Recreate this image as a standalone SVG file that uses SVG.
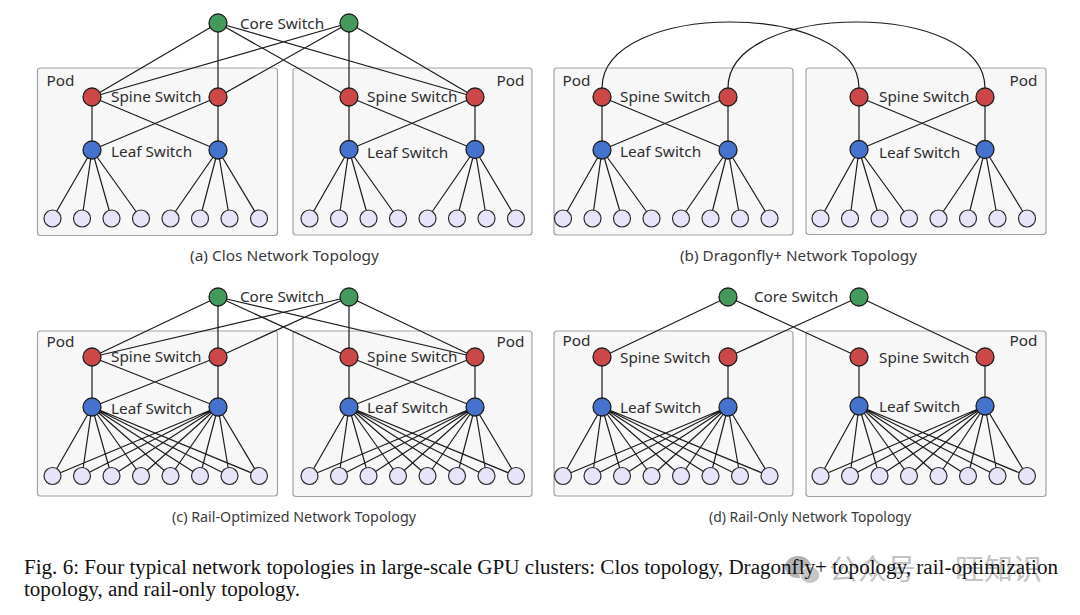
<svg xmlns="http://www.w3.org/2000/svg" width="1080" height="615" viewBox="0 0 1080 615">
<style>
.bg{fill:#ffffff}
.pod{fill:#f7f7f7;stroke:#a3a3a3;stroke-width:1.2}
.ln{fill:none;stroke:#1c1c1c;stroke-width:1.2}
.core{fill:#449a5c;stroke:#1e1e1e;stroke-width:1.3}
.spine{fill:#cc4848;stroke:#1e1e1e;stroke-width:1.3}
.leaf{fill:#4572cc;stroke:#1e1e1e;stroke-width:1.3}
.ep{fill:#e7e3f8;stroke:#2a2a2a;stroke-width:1.2}
.lbl{font-family:"Noto Sans","Open Sans",sans-serif;font-size:15.3px;fill:#2e2e2e}
.cap{font-family:"Noto Sans","Open Sans",sans-serif;font-size:15.3px;fill:#3a3a3a;text-anchor:middle}
.fig{font-family:"Liberation Serif","Times New Roman",serif;font-size:20px;fill:#111111}
.wm{font-family:"Noto Sans CJK SC","Noto Sans",sans-serif;font-size:29px;fill:#c4c4c4}
</style>
<rect class="bg" x="0" y="0" width="1080" height="615"/>

<!-- pod boxes -->
<g id="a-pod-left"><rect class="pod" x="37.5" y="68" width="240" height="167.5" rx="3"/></g>
<g id="a-pod-right"><rect class="pod" x="293" y="68" width="239" height="167" rx="3"/></g>
<g id="b-pod-left"><rect class="pod" x="554" y="68" width="239" height="167" rx="3"/></g>
<g id="b-pod-right"><rect class="pod" x="806" y="68" width="240" height="166.5" rx="3"/></g>
<g id="c-pod-left"><rect class="pod" x="37.5" y="331" width="240" height="165" rx="3"/></g>
<g id="c-pod-right"><rect class="pod" x="293" y="331" width="239" height="165.5" rx="3"/></g>
<g id="d-pod-left"><rect class="pod" x="554" y="331" width="239" height="165" rx="3"/></g>
<g id="d-pod-right"><rect class="pod" x="806" y="331" width="240" height="165.5" rx="3"/></g>

<!-- connectors -->
<g id="connectors">
<!-- (a) Clos -->
<path class="ln" d="M218 23L92 97M218 23L218 97M218 23L349 97M218 23L475 97M349 23L92 97M349 23L218 97M349 23L349 97M349 23L475 97"/>
<path class="ln" d="M92 97L92 150M92 97L218 150M218 97L92 150M218 97L218 150M349 97L349 149.5M349 97L475 149.5M475 97L349 149.5M475 97L475 149.5"/>
<path class="ln" d="M92 150L52.5 218.5M92 150L82 218.5M92 150L111.5 218.5M92 150L141 218.5M218 150L170.5 218.5M218 150L200 218.5M218 150L229.5 218.5M218 150L259 218.5M349 149.5L309.5 218.5M349 149.5L339 218.5M349 149.5L368.5 218.5M349 149.5L398 218.5M475 149.5L427.5 218.5M475 149.5L457 218.5M475 149.5L486.5 218.5M475 149.5L516 218.5"/>
<!-- (b) Dragonfly+ -->
<path class="ln" d="M602 88C602 0 859 0 859 88M728 88C728 0 985 0 985 88"/>
<path class="ln" d="M602 97L602 150M602 97L728 150M728 97L602 150M728 97L728 150M859 97L859 149.5M859 97L985 149.5M985 97L859 149.5M985 97L985 149.5"/>
<path class="ln" d="M602 150L563 218.5M602 150L592.5 218.5M602 150L622 218.5M602 150L651.5 218.5M728 150L681 218.5M728 150L710.5 218.5M728 150L740 218.5M728 150L769.5 218.5M859 149.5L820.5 218.5M859 149.5L850 218.5M859 149.5L879.5 218.5M859 149.5L909 218.5M985 149.5L938.5 218.5M985 149.5L968 218.5M985 149.5L997.5 218.5M985 149.5L1027 218.5"/>
<!-- (c) Rail-Optimized -->
<path class="ln" d="M218 297L92 357M218 297L218 357M218 297L349 357M218 297L475 357M349 297L92 357M349 297L218 357M349 297L349 357M349 297L475 357"/>
<path class="ln" d="M92 357L92 407M92 357L218 407M218 357L92 407M218 357L218 407M349 357L349 407M349 357L475 407M475 357L349 407M475 357L475 407"/>
<path class="ln" d="M92 407L52.5 476M92 407L82 476M92 407L111.5 476M92 407L141 476M92 407L170.5 476M92 407L200 476M92 407L229.5 476M92 407L259 476M218 407L52.5 476M218 407L82 476M218 407L111.5 476M218 407L141 476M218 407L170.5 476M218 407L200 476M218 407L229.5 476M218 407L259 476"/>
<path class="ln" d="M349 407L309.5 476M349 407L339 476M349 407L368.5 476M349 407L398 476M349 407L427.5 476M349 407L457 476M349 407L486.5 476M349 407L516 476M475 407L309.5 476M475 407L339 476M475 407L368.5 476M475 407L398 476M475 407L427.5 476M475 407L457 476M475 407L486.5 476M475 407L516 476"/>
<!-- (d) Rail-Only -->
<path class="ln" d="M728 297L602 357M728 297L859 357M859 297L728 357M859 297L985 357"/>
<path class="ln" d="M602 357L602 407M728 357L728 407M859 357L859 406M985 357L985 406"/>
<path class="ln" d="M602 407L563 476M602 407L592.5 476M602 407L622 476M602 407L651.5 476M602 407L681 476M602 407L710.5 476M602 407L740 476M602 407L769.5 476M728 407L563 476M728 407L592.5 476M728 407L622 476M728 407L651.5 476M728 407L681 476M728 407L710.5 476M728 407L740 476M728 407L769.5 476"/>
<path class="ln" d="M859 406L820.5 476M859 406L850 476M859 406L879.5 476M859 406L909 476M859 406L938.5 476M859 406L968 476M859 406L997.5 476M859 406L1027 476M985 406L820.5 476M985 406L850 476M985 406L879.5 476M985 406L909 476M985 406L938.5 476M985 406L968 476M985 406L997.5 476M985 406L1027 476"/>
</g>

<!-- (a) nodes -->
<g id="a-core-1"><circle class="core" cx="218" cy="23" r="9"/></g>
<g id="a-core-2"><circle class="core" cx="349" cy="23" r="9"/></g>
<g id="a-spine-1"><circle class="spine" cx="92" cy="97" r="9"/></g>
<g id="a-spine-2"><circle class="spine" cx="218" cy="97" r="9"/></g>
<g id="a-spine-3"><circle class="spine" cx="349" cy="97" r="9"/></g>
<g id="a-spine-4"><circle class="spine" cx="475" cy="97" r="9"/></g>
<g id="a-leaf-1"><circle class="leaf" cx="92" cy="150" r="9"/></g>
<g id="a-leaf-2"><circle class="leaf" cx="218" cy="150" r="9"/></g>
<g id="a-leaf-3"><circle class="leaf" cx="349" cy="149.5" r="9"/></g>
<g id="a-leaf-4"><circle class="leaf" cx="475" cy="149.5" r="9"/></g>
<g id="a-gpu-1"><circle class="ep" cx="52.5" cy="218.5" r="8.5"/></g>
<g id="a-gpu-2"><circle class="ep" cx="82" cy="218.5" r="8.5"/></g>
<g id="a-gpu-3"><circle class="ep" cx="111.5" cy="218.5" r="8.5"/></g>
<g id="a-gpu-4"><circle class="ep" cx="141" cy="218.5" r="8.5"/></g>
<g id="a-gpu-5"><circle class="ep" cx="170.5" cy="218.5" r="8.5"/></g>
<g id="a-gpu-6"><circle class="ep" cx="200" cy="218.5" r="8.5"/></g>
<g id="a-gpu-7"><circle class="ep" cx="229.5" cy="218.5" r="8.5"/></g>
<g id="a-gpu-8"><circle class="ep" cx="259" cy="218.5" r="8.5"/></g>
<g id="a-gpu-9"><circle class="ep" cx="309.5" cy="218.5" r="8.5"/></g>
<g id="a-gpu-10"><circle class="ep" cx="339" cy="218.5" r="8.5"/></g>
<g id="a-gpu-11"><circle class="ep" cx="368.5" cy="218.5" r="8.5"/></g>
<g id="a-gpu-12"><circle class="ep" cx="398" cy="218.5" r="8.5"/></g>
<g id="a-gpu-13"><circle class="ep" cx="427.5" cy="218.5" r="8.5"/></g>
<g id="a-gpu-14"><circle class="ep" cx="457" cy="218.5" r="8.5"/></g>
<g id="a-gpu-15"><circle class="ep" cx="486.5" cy="218.5" r="8.5"/></g>
<g id="a-gpu-16"><circle class="ep" cx="516" cy="218.5" r="8.5"/></g>

<!-- (b) nodes -->
<g id="b-spine-1"><circle class="spine" cx="602" cy="97" r="9"/></g>
<g id="b-spine-2"><circle class="spine" cx="728" cy="97" r="9"/></g>
<g id="b-spine-3"><circle class="spine" cx="859" cy="97" r="9"/></g>
<g id="b-spine-4"><circle class="spine" cx="985" cy="97" r="9"/></g>
<g id="b-leaf-1"><circle class="leaf" cx="602" cy="150" r="9"/></g>
<g id="b-leaf-2"><circle class="leaf" cx="728" cy="150" r="9"/></g>
<g id="b-leaf-3"><circle class="leaf" cx="859" cy="149.5" r="9"/></g>
<g id="b-leaf-4"><circle class="leaf" cx="985" cy="149.5" r="9"/></g>
<g id="b-gpu-1"><circle class="ep" cx="563" cy="218.5" r="8.5"/></g>
<g id="b-gpu-2"><circle class="ep" cx="592.5" cy="218.5" r="8.5"/></g>
<g id="b-gpu-3"><circle class="ep" cx="622" cy="218.5" r="8.5"/></g>
<g id="b-gpu-4"><circle class="ep" cx="651.5" cy="218.5" r="8.5"/></g>
<g id="b-gpu-5"><circle class="ep" cx="681" cy="218.5" r="8.5"/></g>
<g id="b-gpu-6"><circle class="ep" cx="710.5" cy="218.5" r="8.5"/></g>
<g id="b-gpu-7"><circle class="ep" cx="740" cy="218.5" r="8.5"/></g>
<g id="b-gpu-8"><circle class="ep" cx="769.5" cy="218.5" r="8.5"/></g>
<g id="b-gpu-9"><circle class="ep" cx="820.5" cy="218.5" r="8.5"/></g>
<g id="b-gpu-10"><circle class="ep" cx="850" cy="218.5" r="8.5"/></g>
<g id="b-gpu-11"><circle class="ep" cx="879.5" cy="218.5" r="8.5"/></g>
<g id="b-gpu-12"><circle class="ep" cx="909" cy="218.5" r="8.5"/></g>
<g id="b-gpu-13"><circle class="ep" cx="938.5" cy="218.5" r="8.5"/></g>
<g id="b-gpu-14"><circle class="ep" cx="968" cy="218.5" r="8.5"/></g>
<g id="b-gpu-15"><circle class="ep" cx="997.5" cy="218.5" r="8.5"/></g>
<g id="b-gpu-16"><circle class="ep" cx="1027" cy="218.5" r="8.5"/></g>

<!-- (c) nodes -->
<g id="c-core-1"><circle class="core" cx="218" cy="297" r="9"/></g>
<g id="c-core-2"><circle class="core" cx="349" cy="297" r="9"/></g>
<g id="c-spine-1"><circle class="spine" cx="92" cy="357" r="9"/></g>
<g id="c-spine-2"><circle class="spine" cx="218" cy="357" r="9"/></g>
<g id="c-spine-3"><circle class="spine" cx="349" cy="357" r="9"/></g>
<g id="c-spine-4"><circle class="spine" cx="475" cy="357" r="9"/></g>
<g id="c-leaf-1"><circle class="leaf" cx="92" cy="407" r="9"/></g>
<g id="c-leaf-2"><circle class="leaf" cx="218" cy="407" r="9"/></g>
<g id="c-leaf-3"><circle class="leaf" cx="349" cy="407" r="9"/></g>
<g id="c-leaf-4"><circle class="leaf" cx="475" cy="407" r="9"/></g>
<g id="c-gpu-1"><circle class="ep" cx="52.5" cy="476" r="8.5"/></g>
<g id="c-gpu-2"><circle class="ep" cx="82" cy="476" r="8.5"/></g>
<g id="c-gpu-3"><circle class="ep" cx="111.5" cy="476" r="8.5"/></g>
<g id="c-gpu-4"><circle class="ep" cx="141" cy="476" r="8.5"/></g>
<g id="c-gpu-5"><circle class="ep" cx="170.5" cy="476" r="8.5"/></g>
<g id="c-gpu-6"><circle class="ep" cx="200" cy="476" r="8.5"/></g>
<g id="c-gpu-7"><circle class="ep" cx="229.5" cy="476" r="8.5"/></g>
<g id="c-gpu-8"><circle class="ep" cx="259" cy="476" r="8.5"/></g>
<g id="c-gpu-9"><circle class="ep" cx="309.5" cy="476" r="8.5"/></g>
<g id="c-gpu-10"><circle class="ep" cx="339" cy="476" r="8.5"/></g>
<g id="c-gpu-11"><circle class="ep" cx="368.5" cy="476" r="8.5"/></g>
<g id="c-gpu-12"><circle class="ep" cx="398" cy="476" r="8.5"/></g>
<g id="c-gpu-13"><circle class="ep" cx="427.5" cy="476" r="8.5"/></g>
<g id="c-gpu-14"><circle class="ep" cx="457" cy="476" r="8.5"/></g>
<g id="c-gpu-15"><circle class="ep" cx="486.5" cy="476" r="8.5"/></g>
<g id="c-gpu-16"><circle class="ep" cx="516" cy="476" r="8.5"/></g>

<!-- (d) nodes -->
<g id="d-core-1"><circle class="core" cx="728" cy="297" r="9"/></g>
<g id="d-core-2"><circle class="core" cx="859" cy="297" r="9"/></g>
<g id="d-spine-1"><circle class="spine" cx="602" cy="357" r="9"/></g>
<g id="d-spine-2"><circle class="spine" cx="728" cy="357" r="9"/></g>
<g id="d-spine-3"><circle class="spine" cx="859" cy="357" r="9"/></g>
<g id="d-spine-4"><circle class="spine" cx="985" cy="357" r="9"/></g>
<g id="d-leaf-1"><circle class="leaf" cx="602" cy="407" r="9"/></g>
<g id="d-leaf-2"><circle class="leaf" cx="728" cy="407" r="9"/></g>
<g id="d-leaf-3"><circle class="leaf" cx="859" cy="406" r="9"/></g>
<g id="d-leaf-4"><circle class="leaf" cx="985" cy="406" r="9"/></g>
<g id="d-gpu-1"><circle class="ep" cx="563" cy="476" r="8.5"/></g>
<g id="d-gpu-2"><circle class="ep" cx="592.5" cy="476" r="8.5"/></g>
<g id="d-gpu-3"><circle class="ep" cx="622" cy="476" r="8.5"/></g>
<g id="d-gpu-4"><circle class="ep" cx="651.5" cy="476" r="8.5"/></g>
<g id="d-gpu-5"><circle class="ep" cx="681" cy="476" r="8.5"/></g>
<g id="d-gpu-6"><circle class="ep" cx="710.5" cy="476" r="8.5"/></g>
<g id="d-gpu-7"><circle class="ep" cx="740" cy="476" r="8.5"/></g>
<g id="d-gpu-8"><circle class="ep" cx="769.5" cy="476" r="8.5"/></g>
<g id="d-gpu-9"><circle class="ep" cx="820.5" cy="476" r="8.5"/></g>
<g id="d-gpu-10"><circle class="ep" cx="850" cy="476" r="8.5"/></g>
<g id="d-gpu-11"><circle class="ep" cx="879.5" cy="476" r="8.5"/></g>
<g id="d-gpu-12"><circle class="ep" cx="909" cy="476" r="8.5"/></g>
<g id="d-gpu-13"><circle class="ep" cx="938.5" cy="476" r="8.5"/></g>
<g id="d-gpu-14"><circle class="ep" cx="968" cy="476" r="8.5"/></g>
<g id="d-gpu-15"><circle class="ep" cx="997.5" cy="476" r="8.5"/></g>
<g id="d-gpu-16"><circle class="ep" cx="1027" cy="476" r="8.5"/></g>

<!-- labels -->
<g id="labels-a">
<text class="lbl" x="282" y="29" text-anchor="middle">Core Switch</text>
<text class="lbl" x="46.5" y="86">Pod</text>
<text class="lbl" x="524.5" y="86" text-anchor="end">Pod</text>
<text class="lbl" x="111" y="102">Spine Switch</text>
<text class="lbl" x="111" y="156.5">Leaf Switch</text>
<text class="lbl" x="367" y="102">Spine Switch</text>
<text class="lbl" x="367" y="158">Leaf Switch</text>
<text class="cap" x="284.5" y="261" textLength="189" lengthAdjust="spacingAndGlyphs">(a) Clos Network Topology</text>
</g>
<g id="labels-b">
<text class="lbl" x="562.5" y="86">Pod</text>
<text class="lbl" x="1037.5" y="86" text-anchor="end">Pod</text>
<text class="lbl" x="620" y="102">Spine Switch</text>
<text class="lbl" x="620" y="156.5">Leaf Switch</text>
<text class="lbl" x="879" y="102">Spine Switch</text>
<text class="lbl" x="879" y="158">Leaf Switch</text>
<text class="cap" x="798.5" y="261" textLength="237" lengthAdjust="spacingAndGlyphs">(b) Dragonfly+ Network Topology</text>
</g>
<g id="labels-c">
<text class="lbl" x="282" y="302" text-anchor="middle">Core Switch</text>
<text class="lbl" x="46.5" y="347">Pod</text>
<text class="lbl" x="524.5" y="347" text-anchor="end">Pod</text>
<text class="lbl" x="111" y="362">Spine Switch</text>
<text class="lbl" x="111" y="413.5">Leaf Switch</text>
<text class="lbl" x="367" y="362">Spine Switch</text>
<text class="lbl" x="367" y="413">Leaf Switch</text>
<text class="cap" x="294" y="522" textLength="244" lengthAdjust="spacingAndGlyphs">(c) Rail-Optimized Network Topology</text>
</g>
<g id="labels-d">
<text class="lbl" x="796" y="302" text-anchor="middle">Core Switch</text>
<text class="lbl" x="562.5" y="346">Pod</text>
<text class="lbl" x="1037.5" y="346" text-anchor="end">Pod</text>
<text class="lbl" x="620" y="363">Spine Switch</text>
<text class="lbl" x="620" y="413">Leaf Switch</text>
<text class="lbl" x="879" y="363">Spine Switch</text>
<text class="lbl" x="879" y="412">Leaf Switch</text>
<text class="cap" x="810" y="522" textLength="202" lengthAdjust="spacingAndGlyphs">(d) Rail-Only Network Topology</text>
</g>

<!-- watermark -->
<g id="watermark">
<ellipse cx="798" cy="567" rx="13" ry="11" fill="#b4b4b4"/>
<ellipse cx="810" cy="575" rx="10" ry="8.5" fill="#c6c6c6" stroke="#ffffff" stroke-width="1.2"/>
<text class="wm" x="829" y="580">公众号</text>
<text class="wm" x="955" y="580">旺知识</text>
</g>

<!-- figure caption -->
<g id="caption">
<text class="fig" x="24" y="574" textLength="1034" lengthAdjust="spacingAndGlyphs">Fig. 6: Four typical network topologies in large-scale GPU clusters: Clos topology, Dragonfly+ topology, rail-optimization</text>
<text class="fig" x="24" y="596" textLength="276" lengthAdjust="spacingAndGlyphs">topology, and rail-only topology.</text>
</g>
</svg>
